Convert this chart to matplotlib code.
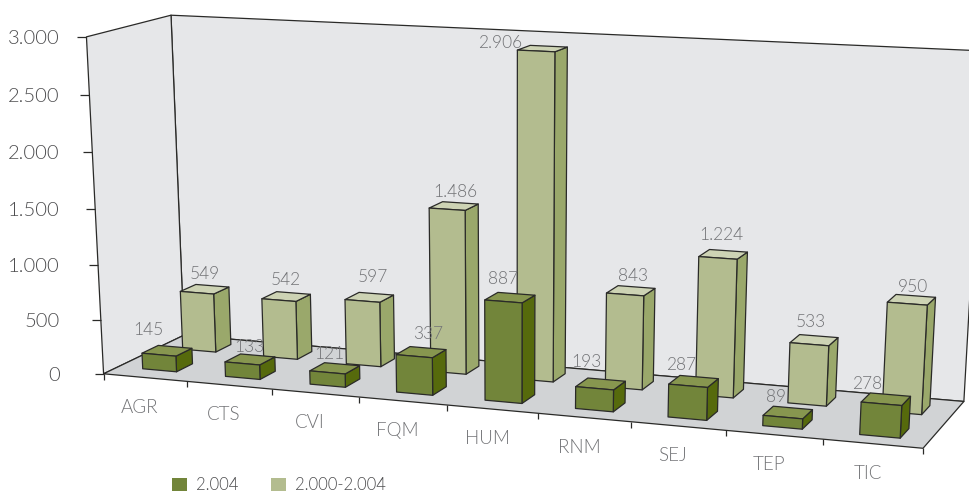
import numpy as np
import matplotlib
matplotlib.use("Agg")
import matplotlib.pyplot as plt
from matplotlib import font_manager as fm
from matplotlib.patches import Polygon, Patch

# ---- data ----
categories = ["AGR", "CTS", "CVI", "FQM", "HUM", "RNM", "SEJ", "TEP", "TIC"]
series_2004 = [145, 133, 121, 337, 887, 193, 287, 89, 278]
series_2000_2004 = [549, 542, 597, 1486, 2906, 843, 1224, 533, 950]
series_names = ["2.004", "2.000-2.004"]
y_ticks = [0, 500, 1000, 1500, 2000, 2500, 3000]
y_tick_labels = ["0", "500", "1.000", "1.500", "2.000", "2.500", "3.000"]
value_labels_2004 = ["145", "133", "121", "337", "887", "193", "287", "89", "278"]
value_labels_total = ["549", "542", "597", "1.486", "2.906", "843", "1.224", "533", "950"]

# ---- layout / style ----
Y_MAX = 3000
WALL, FLOOR = "#e6e7e9", "#d1d3d5"
EDGE = "#2a2a28"
COL_A = ("#72853a", "#87964f", "#566a0c")  # front, top, side
COL_B = ("#b3bc8f", "#cdd3b4", "#9aa86b")
GREY_LABEL, GREY_TICK, GREY_CAT = "#727376", "#4d4d4f", "#727376"
LABEL_OFF_A = [(-19, -21), (-1, -12), (-5, -14), (7, -18), (-7, -19), (-14, -22), (-12, -16), (-12, -16), (-19, -15)]
LABEL_OFF_B = [(0, -15), (0, -17), (4, -20), (2, -14), (-42, -6), (2, -15), (-2, -19), (-3, -18), (1, -13)]

paths = {f.fname.split("/")[-1]: f.fname for f in fm.fontManager.ttflist}
path = paths.get("Lato-Light.ttf") or paths.get("OpenSans-Light.ttf")


def font(size):
    if path:
        return fm.FontProperties(fname=path, size=size)
    return fm.FontProperties(family="Lato", size=size)


# perspective calibration: box corners (u, v, z) -> image pixels
world = np.array([(0, 0, 0), (0, 1, 0), (1, 0, 0), (1, 1, 0), (0, 0, 1), (0, 1, 1), (1, 1, 1)], float)
image = np.array([(104.5, 373), (183, 336), (923, 449), (964, 400.7), (85.5, 37), (172, 15), (983.6, 51)], float)
rows = []
for (a, b, c), (x, y) in zip(world, image):
    rows.append([a, b, c, 1, 0, 0, 0, 0, -x * a, -x * b, -x * c, -x])
    rows.append([0, 0, 0, 0, a, b, c, 1, -y * a, -y * b, -y * c, -y])
P = np.linalg.svd(np.array(rows))[2][-1].reshape(3, 4)


def proj(u, v, z):
    h = P @ np.array([u, v, z, 1.0])
    return h[0] / h[2], h[1] / h[2]


fig = plt.figure(figsize=(9.7, 4.92), dpi=100)
ax = fig.add_axes([0, 0, 1, 1])
ax.set_xlim(0, 970)
ax.set_ylim(492, 0)
ax.axis("off")


def face(pts, color, z, edge=EDGE, lw=0.9):
    ax.add_patch(Polygon([proj(*p) for p in pts], closed=True, facecolor=color, edgecolor=edge, linewidth=lw, joinstyle="round", zorder=z))


# walls and floor
face([(0, 1, 0), (1, 1, 0), (1, 1, 1), (0, 1, 1)], WALL, 1)
face([(0, 0, 0), (0, 1, 0), (0, 1, 1), (0, 0, 1)], WALL, 1)
face([(0, 0, 0), (1, 0, 0), (1, 1, 0), (0, 1, 0)], FLOOR, 1.5)

n = len(categories)


def line(p, q, color=EDGE, lw=0.9):
    ax.plot([p[0], q[0]], [p[1], q[1]], color=color, lw=lw, solid_capstyle="butt", zorder=2)


# y ticks
for t, lab in zip(y_ticks, y_tick_labels):
    x, y = proj(0, 0, t / Y_MAX)
    line((x - 9, y), (x, y))
    ax.text(60, y + 1.5, lab, ha="right", va="center", fontproperties=font(14.5), color=GREY_TICK)

# x ticks and categories
for i in range(n + 1):
    x, y = proj(i / n, 0, 0)
    line((x, y), (x, y + 6))
for i, lab in enumerate(categories):
    x, y = proj((i + 0.5) / n, 0, 0)
    ax.text(x - 5.5, y + 29.5, lab, ha="center", va="center", fontproperties=font(13.5), color=GREY_CAT)


def bar(i, value, v0, v1, cols, z):
    h = value / Y_MAX
    u0, u1 = (i + 0.295) / n, (i + 0.705) / n
    shift = 0.03 * (1 - (i + 0.5) / n)
    v0, v1 = v0 + shift, v1 + shift
    face([(u1, v0, 0), (u1, v1, 0), (u1, v1, h), (u1, v0, h)], cols[2], z)
    face([(u0, v0, h), (u1, v0, h), (u1, v1, h), (u0, v1, h)], cols[1], z)
    face([(u0, v0, 0), (u1, v0, 0), (u1, v0, h), (u0, v0, h)], cols[0], z)
    return proj((u0 + u1) / 2, (v0 + v1) / 2, h)


for i in range(n):
    top = bar(i, series_2000_2004[i], 0.65, 0.85, COL_B, 3 + i * 0.01)
    dx, dy = LABEL_OFF_B[i]
    ax.text(top[0] + dx, top[1] + dy, value_labels_total[i], ha="center", va="center", fontproperties=font(12.5), color=GREY_LABEL, zorder=6)
for i in range(n):
    top = bar(i, series_2004[i], 0.15, 0.35, COL_A, 4 + i * 0.01)
    dx, dy = LABEL_OFF_A[i]
    ax.text(top[0] + dx, top[1] + dy, value_labels_2004[i], ha="center", va="center", fontproperties=font(12.5), color=GREY_LABEL, zorder=6)

handles = [Patch(facecolor=COL_A[0], label=series_names[0]), Patch(facecolor=COL_B[0], label=series_names[1])]
fig.legend(handles=handles, loc="lower left", bbox_to_anchor=(172 / 970, -0.002), ncol=2, frameon=False,
           handlelength=0.87, handleheight=0.8, handletextpad=0.55, columnspacing=2.0, borderpad=0, borderaxespad=0,
           prop=font(12), labelcolor=GREY_TICK)

fig.savefig("out.png", dpi=100)
